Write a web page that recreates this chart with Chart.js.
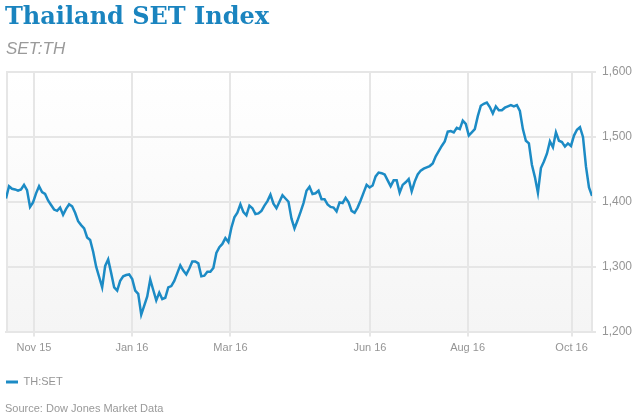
<!DOCTYPE html>
<html>
<head>
<meta charset="utf-8">
<title>Thailand SET Index</title>
<script src="https://cdn.jsdelivr.net/npm/chart.js@4.4.0/dist/chart.umd.min.js"></script>
<style>
  html, body { margin: 0; padding: 0; background: #fff; }
  #wrap { position: relative; width: 640px; height: 416px; overflow: hidden; }
  #chart { position: absolute; left: 0; top: 0; }
  .title { position: absolute; left: 5px; top: 1px; font: bold 24px "DejaVu Serif", serif; color: #1a84bf; line-height: 30px; white-space: nowrap; }
  .sub { position: absolute; left: 6px; top: 38px; font: italic 17px "Liberation Sans", Arial, sans-serif; color: #9a9a9a; line-height: 22px; }
  .source { position: absolute; left: 5px; top: 400px; font: 11px "Liberation Sans", Arial, sans-serif; color: #999; line-height: 16px; }
</style>
</head>
<body>
<div id="wrap">
  <canvas id="chart" width="640" height="416"></canvas>
  <div class="title">Thailand SET Index</div>
  <div class="sub">SET:TH</div>
  <div class="source">Source: Dow Jones Market Data</div>
</div>
<script>
// SET index, evenly spaced sessions from mid Oct 2015 to mid Oct 2016
const setValues = [
  1405,1424,1420,1419,1417,1419,1426,1418,1392,1399,
  1413,1424,1415,1412,1402,1395,1388,1386,1391,1380,
  1389,1396,1393,1383,1370,1364,1359,1345,1341,1323,
  1300,1284,1268,1301,1311,1290,1268,1263,1278,1285,
  1287,1288,1281,1263,1258,1226,1240,1254,1280,1264,
  1248,1260,1250,1252,1268,1270,1278,1290,1302,1294,
  1288,1297,1308,1308,1305,1285,1286,1292,1292,1298,
  1321,1330,1335,1344,1338,1360,1376,1383,1396,1384,
  1379,1394,1390,1381,1382,1386,1394,1401,1411,1397,
  1390,1400,1410,1405,1400,1374,1359,1371,1384,1398,
  1417,1423,1412,1413,1417,1404,1404,1396,1392,1391,
  1385,1399,1398,1406,1399,1386,1383,1391,1402,1414,
  1426,1422,1425,1439,1445,1444,1442,1433,1424,1433,
  1433,1414,1426,1430,1435,1416,1431,1442,1448,1451,
  1453,1455,1459,1470,1478,1486,1493,1508,1509,1507,
  1514,1512,1525,1520,1502,1507,1512,1532,1548,1551,
  1553,1546,1536,1547,1541,1541,1545,1547,1549,1547,
  1549,1540,1512,1494,1490,1457,1438,1414,1452,1462,
  1474,1493,1484,1507,1494,1492,1485,1490,1486,1502,
  1511,1515,1500,1454,1422,1409
];

// month ticks, given as position in the session index
const tickLabels = ['Nov 15', 'Jan 16', 'Mar 16', 'Jun 16', 'Aug 16', 'Oct 16'];
const tickPositions = [9.3, 41.9, 74.7, 121.1, 153.6, 188.2];
const yTicks = [1200, 1300, 1400, 1500, 1600];

const lineColor = '#1c8bc5';
const gridColor = '#e6e6e6';
const tickFont = { family: 'Liberation Sans', size: 11 };

const points = setValues.map(function (v, i) { return { x: i, y: v }; });

// soft grey fade in the plot and a left edge line
const plotBack = {
    id: 'plotBack',
    beforeDraw: function (chart) {
        const a = chart.chartArea;
        const ctx = chart.ctx;
        const g = ctx.createLinearGradient(0, a.top, 0, a.bottom);
        g.addColorStop(0, '#ffffff');
        g.addColorStop(1, '#f5f5f5');
        ctx.save();
        ctx.fillStyle = g;
        ctx.fillRect(a.left, a.top, a.right - a.left, a.bottom - a.top);
        ctx.restore();
    },
    beforeDatasetsDraw: function (chart) {
        const a = chart.chartArea;
        const ctx = chart.ctx;
        ctx.save();
        ctx.strokeStyle = gridColor;
        ctx.lineWidth = 2;
        ctx.beginPath();
        ctx.moveTo(a.left + 1, a.top);
        ctx.lineTo(a.left + 1, a.bottom);
        ctx.stroke();
        ctx.restore();
    }
};

new Chart(document.getElementById('chart'), {
    type: 'line',
    data: {
        datasets: [{
            label: 'TH:SET',
            data: points,
            borderColor: lineColor,
            backgroundColor: lineColor,
            borderWidth: 2.5,
            pointRadius: 0,
            tension: 0,
            fill: false
        }]
    },
    options: {
        responsive: false,
        animation: false,
        layout: {
            padding: { left: 6, top: 72, right: 0, bottom: 18.5 }
        },
        scales: {
            x: {
                type: 'linear',
                min: 0,
                max: setValues.length - 1,
                afterBuildTicks: function (scale) {
                    scale.ticks = tickPositions.map(function (v) { return { value: v }; });
                },
                afterFit: function (scale) { scale.height = 45; },
                ticks: {
                    autoSkip: false,
                    maxRotation: 0,
                    padding: 5,
                    color: '#959595',
                    font: tickFont,
                    callback: function (value, index) { return tickLabels[index]; }
                },
                grid: { color: gridColor, tickLength: 5, lineWidth: 2 },
                border: { color: gridColor, width: 2 }
            },
            y: {
                position: 'right',
                min: 1200,
                max: 1600,
                afterBuildTicks: function (scale) {
                    scale.ticks = yTicks.map(function (v) { return { value: v }; });
                },
                afterFit: function (scale) { scale.width = 48; },
                ticks: {
                    padding: 6,
                    color: '#959595',
                    font: { family: 'Liberation Sans', size: 12 },
                    callback: function (value) { return value.toLocaleString('en-US'); }
                },
                grid: { color: gridColor, tickLength: 4, lineWidth: 2 },
                border: { color: gridColor, width: 2 }
            }
        },
        plugins: {
            legend: {
                position: 'bottom',
                align: 'start',
                labels: {
                    boxWidth: 12,
                    boxHeight: 3,
                    padding: 0,
                    color: '#959595',
                    font: tickFont,
                    generateLabels: function (chart) {
                        return Chart.defaults.plugins.legend.labels.generateLabels(chart).map(function (l) {
                            l.lineWidth = 0;
                            return l;
                        });
                    }
                }
            },
            tooltip: { enabled: false }
        }
    },
    plugins: [plotBack]
});
</script>
</body>
</html>
